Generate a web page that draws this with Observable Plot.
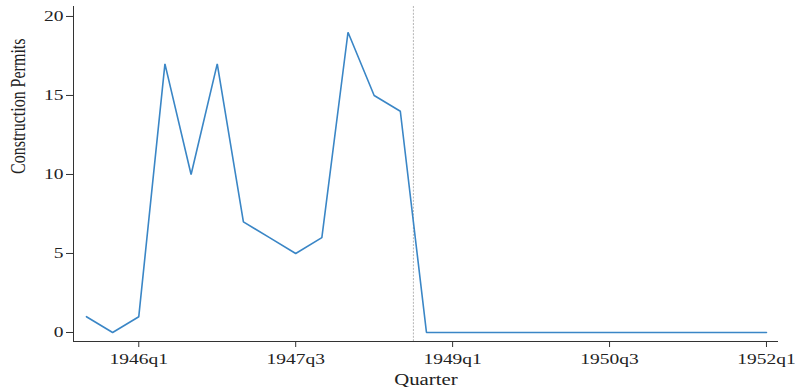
<!DOCTYPE html>
<html>
<head>
<meta charset="utf-8">
<script src="https://cdn.jsdelivr.net/npm/d3@7"></script>
<script src="https://cdn.jsdelivr.net/npm/@observablehq/plot@0.6"></script>
<style>
  html, body { margin: 0; padding: 0; background: #fff; }
</style>
</head>
<body>
<div id="chart"></div>
<script>
const quarters = ["1945q3","1945q4","1946q1","1946q2","1946q3","1946q4","1947q1","1947q2","1947q3","1947q4",
  "1948q1","1948q2","1948q3","1948q4","1949q1","1949q2","1949q3","1949q4","1950q1","1950q2","1950q3","1950q4",
  "1951q1","1951q2","1951q3","1951q4","1952q1"];
const permits = [1,0,1,17,10,17,7,6,5,6,19,15,14,0,0,0,0,0,0,0,0,0,0,0,0,0,0];
const tickLabels = ["1946q1","1947q3","1949q1","1950q3","1952q1"];
const yTicks = [0,5,10,15,20];
const breakPoint = 1948.625; // between 1948q3 and 1948q4
const xTitle = "Quarter";
const yTitle = "Construction Permits";

const qnum = s => +s.slice(0,4) + (+s.slice(5) - 1) / 4;
const data = quarters.map((q, i) => ({x: qnum(q), y: permits[i]}));
const xTicks = tickLabels.map(qnum);
const xDomain = [1945.376, 1952.115];
const yDomain = [-0.57, 20.63];

const chart = Plot.plot({
  width: 795, height: 387,
  marginLeft: 73, marginRight: 17, marginTop: 6, marginBottom: 46,
  x: {domain: xDomain},
  y: {domain: yDomain},
  style: {fontFamily: "'Liberation Serif', serif", fontSize: "15px", color: "#222", background: "#fff"},
  marks: [
    Plot.ruleX([breakPoint], {stroke: "#b5b5b5", strokeWidth: 1, strokeDasharray: "2,1.4"}),
    Plot.line(data, {x: "x", y: "y", stroke: "#3a86c6", strokeWidth: 1.6, strokeLinejoin: "miter"}),
    Plot.ruleY([yDomain[0]], {stroke: "#333", strokeWidth: 1}),
    Plot.ruleX([xDomain[0]], {stroke: "#333", strokeWidth: 1}),
    Plot.axisX({ticks: xTicks, tickFormat: d => tickLabels[xTicks.indexOf(d)], tickSize: 6, tickPadding: 6, label: null, stroke: "#333", fill: "#222"}),
    Plot.axisY({ticks: yTicks, tickSize: 7, tickPadding: 3, label: null, stroke: "#333", fill: "#222"}),
    Plot.text([xTitle], {text: d => d, frameAnchor: "bottom", dy: 43, lineAnchor: "bottom", fontSize: 16, fill: "#222"}),
    Plot.text([yTitle], {text: d => d, frameAnchor: "left", dx: -55.5, rotate: -90, fontSize: 16, fill: "#222"})
  ]
});
document.getElementById("chart").appendChild(chart);

// the reference's text is horizontally stretched; widen each label around its anchor
const svgNS = "http://www.w3.org/2000/svg";
chart.querySelectorAll("text").forEach(t => {
  const g = document.createElementNS(svgNS, "g");
  t.parentNode.insertBefore(g, t);
  g.appendChild(t);
  const bb = g.getBBox();
  const anchor = getComputedStyle(t).textAnchor;
  let ox = bb.x + bb.width / 2;
  const rotated = (t.getAttribute("transform") || "").includes("rotate");
  if (!rotated) {
    if (anchor === "end") ox = bb.x + bb.width;
    else if (anchor === "start") ox = bb.x;
  }
  const s = 1.3;
  g.setAttribute("transform", `translate(${ox},0) scale(${s},1) translate(${-ox},0)`);
});
</script>
</body>
</html>
